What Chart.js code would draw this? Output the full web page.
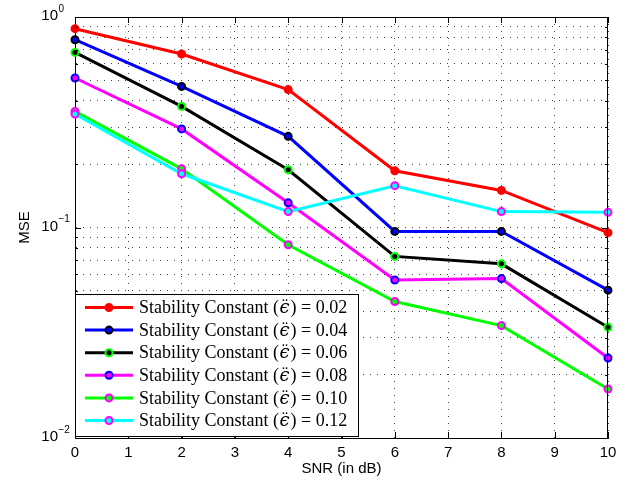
<!DOCTYPE html>
<html>
<head>
<meta charset="utf-8">
<script src="https://cdn.jsdelivr.net/npm/chart.js@4.4.1/dist/chart.umd.min.js"></script>
<style>
	html, body { margin: 0; padding: 0; background: #fff; }
	#wrap { width: 629px; height: 483px; position: relative; }
</style>
</head>
<body>
<div id="wrap"><canvas id="mseChart"></canvas></div>
<script>
// data
const snr = [0, 2, 4, 6, 8, 10];
const xTicks = [0, 1, 2, 3, 4, 5, 6, 7, 8, 9, 10];
const yDecades = [0.01, 0.1, 1];
const yExponents = ['\u22122', '\u22121', '0'];

const mse002 = [0.88, 0.667, 0.452, 0.186, 0.150, 0.0945];
const mse004 = [0.78, 0.468, 0.271, 0.0958, 0.0958, 0.0504];
const mse006 = [0.679, 0.376, 0.188, 0.0729, 0.0672, 0.0336];
const mse008 = [0.513, 0.294, 0.131, 0.0563, 0.0572, 0.0240];
const mse010 = [0.356, 0.190, 0.0828, 0.0445, 0.0342, 0.0171];
const mse012 = [0.346, 0.180, 0.119, 0.158, 0.119, 0.118];

const stabilityConstants = ['0.02', '0.04', '0.06', '0.08', '0.10', '0.12'];
const legendLabels = stabilityConstants.map(c => 'Stability Constant (\u03F5\u0308) = ' + c);
const lineColors = ['#ff0000', '#0000ff', '#000000', '#ff00ff', '#00ff00', '#00ffff'];
const markerColors = ['#ff0000', '#000000', '#00ff00', '#0000ff', '#ff00ff', '#ff00ff'];
const seriesValues = [mse002, mse004, mse006, mse008, mse010, mse012];

// minor grid positions for the log axis (1..9 per decade)
const yGrid = [];
yDecades.forEach((d, i) => {
	if (i === yDecades.length - 1) { yGrid.push(d); return; }
	for (let k = 1; k <= 9; k++) yGrid.push(+(k * d).toPrecision(3));
});

const sansFont = '"Liberation Sans", Arial, sans-serif';
const serifFont = '"Liberation Serif", "DejaVu Serif", serif';

const datasets = seriesValues.map((vals, i) => ({
	label: legendLabels[i],
	data: snr.map((x, j) => ({ x: x, y: vals[j] })),
	borderColor: lineColors[i],
	backgroundColor: lineColors[i],
	borderWidth: 3,
	pointRadius: 3.5,
	pointBorderWidth: 2,
	pointBorderColor: markerColors[i],
	pointBackgroundColor: lineColors[i],
	tension: 0,
	clip: false,
	order: seriesValues.length - i
}));

function drawLegendText(ctx, value, x, y, fs) {
	const pre = 'Stability Constant (';
	const post = ') = ' + value;
	ctx.font = fs + 'px ' + serifFont;
	ctx.fillText(pre, x, y);
	x += ctx.measureText(pre).width;
	ctx.font = 'italic ' + fs + 'px "DejaVu Serif", serif';
	ctx.fillText('\u03F5', x + 0.5, y);
	const ew = ctx.measureText('\u03F5').width;
	ctx.font = fs + 'px ' + serifFont;
	ctx.textAlign = 'center';
	ctx.fillText('\u00A8', x + 0.5 + ew / 2 + 0.5, y - 2);
	ctx.textAlign = 'left';
	x += ew + 1.5;
	ctx.fillText(post, x, y);
}

const matlabAxes = {
	id: 'matlabAxes',
	afterDraw(chart) {
		const ctx = chart.ctx;
		const area = chart.chartArea;
		const xs = chart.scales.x;
		const ys = chart.scales.y;
		ctx.save();

		// box
		ctx.strokeStyle = '#000';
		ctx.lineWidth = 1;
		ctx.beginPath();
		ctx.moveTo(area.left, area.top + 0.5);
		ctx.lineTo(area.right, area.top + 0.5);
		ctx.moveTo(area.right - 0.5, area.top);
		ctx.lineTo(area.right - 0.5, area.bottom);
		ctx.stroke();

		// inward ticks
		ctx.beginPath();
		xTicks.forEach(v => {
			const px = Math.round(xs.getPixelForValue(v)) + 0.5;
			ctx.moveTo(px, area.bottom);
			ctx.lineTo(px, area.bottom - 6);
			ctx.moveTo(px, area.top);
			ctx.lineTo(px, area.top + 6);
		});
		yGrid.forEach(v => {
			const py = Math.round(ys.getPixelForValue(v)) + 0.5;
			const len = yDecades.includes(v) ? 6 : 3;
			ctx.moveTo(area.left, py);
			ctx.lineTo(area.left + len, py);
			ctx.moveTo(area.right, py);
			ctx.lineTo(area.right - len, py);
		});
		ctx.stroke();

		// y tick labels 10^n
		ctx.fillStyle = '#000';
		yDecades.forEach((v, i) => {
			const py = ys.getPixelForValue(v);
			ctx.font = '15px ' + sansFont;
			ctx.textAlign = 'right';
			ctx.textBaseline = 'middle';
			ctx.fillText('10', 58, py - 1);
			ctx.font = '10px ' + sansFont;
			ctx.textAlign = 'left';
			ctx.fillText(yExponents[i], 58.5, py - 8);
		});

		// axis titles
		ctx.font = '15px ' + sansFont;
		ctx.textAlign = 'center';
		ctx.textBaseline = 'middle';
		ctx.fillText('SNR (in dB)', (area.left + area.right) / 2, 469);
		ctx.save();
		ctx.translate(25, (area.top + area.bottom) / 2);
		ctx.rotate(-Math.PI / 2);
		ctx.fillText('MSE', 0, 0);
		ctx.restore();

		// legend box
		const lx = 75, ly = 294, lw = 284, lh = 143;
		ctx.fillStyle = '#fff';
		ctx.fillRect(lx, ly, lw, lh);
		ctx.strokeStyle = '#000';
		ctx.lineWidth = 1;
		ctx.strokeRect(lx + 0.5, ly + 0.5, lw - 1, lh - 1);

		let fs = 16;
		ctx.font = fs + 'px ' + serifFont;
		const w = ctx.measureText(legendLabels[0]).width;
		fs = Math.min(18, Math.max(12, fs * 206 / w));
		ctx.textAlign = 'left';
		ctx.textBaseline = 'middle';

		stabilityConstants.forEach((c, i) => {
			const ry = 307.5 + i * 22.6;
			ctx.strokeStyle = lineColors[i];
			ctx.lineWidth = 3;
			ctx.beginPath();
			ctx.moveTo(85, ry);
			ctx.lineTo(133, ry);
			ctx.stroke();
			ctx.beginPath();
			ctx.arc(109, ry, 3.5, 0, Math.PI * 2);
			ctx.fillStyle = lineColors[i];
			ctx.fill();
			ctx.lineWidth = 2;
			ctx.strokeStyle = markerColors[i];
			ctx.stroke();
			ctx.fillStyle = '#000';
			drawLegendText(ctx, c, 139, ry + 1, fs);
		});

		ctx.restore();
	}
};

new Chart(document.getElementById('mseChart'), {
	type: 'line',
	data: { datasets: datasets },
	options: {
		responsive: true,
		maintainAspectRatio: false,
		animation: false,
		layout: { padding: { left: 0, right: 21, top: 17, bottom: 0 } },
		plugins: {
			legend: { display: false },
			tooltip: { enabled: false }
		},
		scales: {
			x: {
				type: 'linear',
				min: 0,
				max: 10,
				afterBuildTicks: scale => {
					scale.ticks = xTicks.map(v => ({ value: v }));
				},
				afterFit: scale => { scale.height = 45; },
				grid: {
					color: '#444',
					lineWidth: 1,
					drawTicks: false
				},
				border: { display: true, color: '#000', width: 1, dash: [1, 6] },
				ticks: {
					color: '#000',
					font: { family: sansFont, size: 15 },
					padding: 6,
					maxRotation: 0,
					autoSkip: false
				}
			},
			y: {
				type: 'logarithmic',
				min: 0.01,
				max: 1,
				afterBuildTicks: scale => {
					scale.ticks = yGrid.map(v => ({ value: v }));
				},
				afterFit: scale => { scale.width = 75; },
				grid: {
					color: '#444',
					lineWidth: 1,
					drawTicks: false
				},
				border: { display: true, color: '#000', width: 1, dash: [1, 6] },
				ticks: { display: false }
			}
		}
	},
	plugins: [matlabAxes]
});
</script>
</body>
</html>
